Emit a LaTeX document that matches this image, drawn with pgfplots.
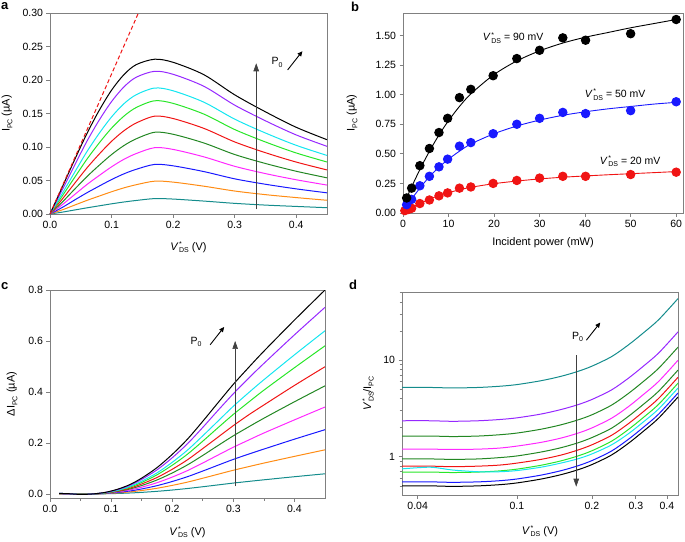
\documentclass[border=0pt]{standalone}
\usepackage{pgfplots}
\usepackage{pgfplotstable}
\pgfplotsset{compat=1.18}
\usepackage{fontspec}
\setmainfont{Liberation Sans}
\usetikzlibrary{arrows.meta}

\definecolor{cteal}{RGB}{20,140,140}
\definecolor{corange}{RGB}{255,140,20}
\definecolor{cblue}{RGB}{25,25,255}
\definecolor{cmag}{RGB}{255,40,255}
\definecolor{cdgreen}{RGB}{35,135,35}
\definecolor{cred}{RGB}{240,20,20}
\definecolor{cgreen}{RGB}{40,230,40}
\definecolor{ccyan}{RGB}{20,230,240}
\definecolor{cpurple}{RGB}{150,40,255}
\definecolor{cframe}{RGB}{128,128,128}

\newcommand{\Vds}{\textit{V}\kern0.6pt\rlap{\raisebox{3.8pt}{\scriptsize *}}\raisebox{-2.6pt}{\scriptsize DS}}
\newcommand{\Ipc}{I\raisebox{-2.6pt}{\scriptsize PC}}
\newcommand{\Pz}{P\raisebox{-2.6pt}{\scriptsize 0}}

\pgfplotstableread{
V     t      o      b      m      dg     r      g      c      p      k
0     0      0      0      0      0      0      0      0      0      0
0.02  .0028  .0062  .0098  .0139  .0178  .0223  .0269  .0308  .0362  .0404
0.04  .0060  .0133  .0209  .0290  .0370  .0457  .0546  .0622  .0728  .0809
0.06  .0092  .0203  .0317  .0440  .0558  .0688  .0818  .0931  .1086  .1201
0.08  .0122  .0268  .0417  .0575  .0728  .0895  .1061  .1205  .1402  .1548
0.10  .0152  .0332  .0514  .0704  .0887  .1085  .1281  .1449  .1678  .1848
0.12  .0179  .0390  .0599  .0816  .1021  .1242  .1460  .1645  .1896  .2079
0.14  .0202  .0437  .0667  .0902  .1122  .1358  .1589  .1780  .2041  .2229
0.17  .0230  .0490  .0740  .0990  .1220  .1460  .1690  .1880  .2130  .2310
0.20  .0223  .0476  .0719  .0964  .1190  .1425  .1651  .1839  .2085  .2264
0.25  .0193  .0415  .0633  .0853  .1060  .1278  .1491  .1669  .1906  .2079
0.30  .0159  .0343  .0525  .0712  .0888  .1076  .1261  .1416  .1625  .1779
0.35  .0133  .0289  .0444  .0603  .0754  .0915  .1075  .1209  .1391  .1525
0.40  .0113  .0245  .0375  .0511  .0638  .0775  .0911  .1025  .1180  .1294
0.45  .0094  .0205  .0316  .0432  .0540  .0658  .0776  .0874  .1010  .1109
}\tabA

\pgfplotstableread{
V      t      o      b      m      dg     r      g      c      p      k
0.015  0      0      .001   .001   .001   .001   .001   .002   .002   .002
0.03   0      0      0      0      .001   .001   .001   .001   .001   .001
0.05   -.002  0      -.001  -.001  -.001  -.001  -.001  -.002  -.002  -.002
0.07   -.001  0      0      0      0      0      0      0      0      0
0.09   .0006  .0013  .0019  .0026  .003   .004   .004   .005   .0055  .006
0.11   .0018  .0039  .0057  .0077  .0095  .011   .013   .014   .0165  .018
0.13   .0036  .0078  .0113  .0153  .019   .022   .026   .029   .033   .036
0.15   .0061  .0134  .0195  .0264  .033   .039   .045   .050   .057   .062
0.175  .0102  .0222  .0324  .0439  .0546  .0643  .0748  .0824  .0942  .103
0.2    .0153  .0335  .0488  .066   .0822  .0967  .1125  .124   .1418  .155
0.225  .0213  .0464  .0677  .0916  .114   .134   .156   .172   .197   .215
0.25   .0282  .0616  .0898  .1214  .151   .178   .207   .228   .261   .285
0.275  .0354  .0773  .1128  .1525  .19    .223   .26    .286   .328   .358
0.3    .0426  .0929  .1355  .1832  .228   .268   .312   .344   .393   .43
0.325  .0491  .1071  .1562  .2113  .263   .31    .36    .397   .454   .496
0.35   .0554  .121   .176   .239   .297   .349   .407   .448   .512   .56
0.4    .0675  .1473  .2148  .2905  .3615  .4256  .4951  .5456  .624   .682
0.45   .079   .173   .252   .341   .424   .499   .581   .64    .732   .80
}\tabC

\pgfplotstableread{
V       t      p      dga    m      dgb    r      g      c      b      k
0.0346  5.22   2.36   1.64   1.20   0.95   0.80   0.695  0.75   0.55   0.50
0.045   5.22   2.36   1.64   1.20   0.95   0.80   0.695  0.78   0.55   0.50
0.055   5.16   2.33   1.62   1.19   0.94   0.79   0.687  0.73   0.544  0.494
0.07    5.22   2.36   1.64   1.20   0.95   0.80   0.695  0.70   0.55   0.50
0.085   5.37   2.43   1.69   1.23   0.98   0.82   0.714  0.70   0.565  0.514
0.1     5.59   2.53   1.76   1.29   1.02   0.86   0.745  0.72   0.589  0.536
0.125   6.13   2.77   1.93   1.41   1.12   0.94   0.817  0.78   0.646  0.588
0.15    6.80   3.08   2.14   1.56   1.24   1.04   0.906  0.86   0.717  0.652
0.175   7.63   3.45   2.40   1.75   1.39   1.17   1.016  0.95   0.804  0.731
0.2     8.67   3.92   2.72   1.99   1.58   1.33   1.154  1.07   0.913  0.830
0.24    10.90  4.93   3.43   2.51   1.98   1.67   1.452  1.33   1.149  1.045
0.28    14.38  6.50   4.52   3.30   2.62   2.20   1.914  1.73   1.515  1.377
0.32    18.95  8.57   5.95   4.36   3.45   2.90   2.524  2.27   1.997  1.816
0.37    26.16  11.83  8.22   6.01   4.76   4.01   3.483  3.12   2.757  2.506
0.443   43.42  19.63  13.64  9.98   7.90   6.65   5.781  5.15   4.575  4.159
}\tabD

\pgfplotsset{
  every axis/.append style={
    scale only axis,
    anchor=north west,
    axis line style={cframe, line width=0.9pt},
    tick align=outside,
    tick style={cframe, line width=0.7pt},
    major tick length=3.5pt,
    minor tick length=2.5pt,
    xtick pos=left, ytick pos=left,
    scaled ticks=false,
    tick label style={font=\fontsize{10.5}{12}\selectfont, text=black},
    label style={font=\fontsize{11}{13}\selectfont},
    /pgf/number format/assume math mode=true,
    every axis plot/.append style={line width=1pt},
  },
  yfmt/.style={yticklabel style={/pgf/number format/.cd,fixed,fixed zerofill,precision=#1}},
  xfmt/.style={xticklabel style={/pgf/number format/.cd,fixed,fixed zerofill,precision=#1}},
}

\begin{document}
\begin{tikzpicture}
\useasboundingbox (0pt,0pt) rectangle (685pt,-541pt);

% panel letters
\node[anchor=north west, inner sep=0pt, font=\bfseries\fontsize{13}{14}\selectfont] at (1pt,-2.5pt) {a};
\node[anchor=north west, inner sep=0pt, font=\bfseries\fontsize{13}{14}\selectfont] at (351pt,-1.5pt) {b};
\node[anchor=north west, inner sep=0pt, font=\bfseries\fontsize{13}{14}\selectfont] at (1pt,-282pt) {c};
\node[anchor=north west, inner sep=0pt, font=\bfseries\fontsize{13}{14}\selectfont] at (349pt,-280pt) {d};

% ---------------- panel a
\begin{axis}[at={(50pt,-13pt)}, width=277pt, height=201pt,
  xmin=0, xmax=0.45, ymin=0, ymax=0.30,
  xtick={0,0.1,0.2,0.3,0.4}, ytick={0,0.05,0.1,0.15,0.2,0.25,0.3},
  xfmt=1, yfmt=2,
  xlabel={\Vds\ (V)}, ylabel={\Ipc\ (µA)},
  x label style={at={(axis description cs:0.5,-0.165)}, anchor=center},
  y label style={at={(axis description cs:-0.155,0.5)}, anchor=center},
  clip=true]
\addplot[cteal, smooth] table[x=V,y=t] {\tabA};
\addplot[corange, smooth] table[x=V,y=o] {\tabA};
\addplot[cblue, smooth] table[x=V,y=b] {\tabA};
\addplot[cmag, smooth] table[x=V,y=m] {\tabA};
\addplot[cdgreen, smooth] table[x=V,y=dg] {\tabA};
\addplot[cred, smooth] table[x=V,y=r] {\tabA};
\addplot[cgreen, smooth] table[x=V,y=g] {\tabA};
\addplot[ccyan, smooth] table[x=V,y=c] {\tabA};
\addplot[cpurple, smooth] table[x=V,y=p] {\tabA};
\addplot[black, smooth] table[x=V,y=k] {\tabA};
\addplot[cred, dashed, line width=1pt, dash pattern=on 4pt off 2.5pt] coordinates {(0,0) (0.1436,0.30)};
\draw[black!75, line width=0.6pt, -{Triangle[length=8pt,width=5.5pt]}] (axis cs:0.335,0.007) -- (axis cs:0.335,0.225);
\node[font=\fontsize{10.5}{12}\selectfont, anchor=center] at (axis cs:0.369,0.226) {\Pz};
\draw[black, line width=0.9pt, -{Triangle[length=5pt,width=4.5pt]}] (axis cs:0.386,0.215) -- (axis cs:0.410,0.243);
\end{axis}

% ---------------- panel b
\begin{axis}[at={(403pt,-13pt)}, width=280pt, height=200pt,
  xmin=0, xmax=61.5, ymin=0, ymax=1.69,
  xtick={0,10,20,30,40,50,60}, ytick={0,0.25,0.5,0.75,1,1.25,1.5},
  yfmt=2,
  xlabel={Incident power (mW)}, ylabel={\Ipc\ (µA)},
  x label style={at={(axis description cs:0.5,-0.15)}, anchor=center},
  y label style={at={(axis description cs:-0.182,0.5)}, anchor=center},
  clip=false]
\addplot[black, smooth, line width=0.9pt] coordinates {(0.5,0.10) (2,0.23) (4,0.39) (6,0.535) (8,0.665) (10,0.78) (12.5,0.905) (15,1.01) (20,1.17) (25,1.285) (30,1.37) (35,1.435) (40,1.485) (45,1.525) (50,1.565) (55,1.60) (60,1.635)};
\addplot[cblue, smooth, line width=0.9pt] coordinates {(0.5,0.06) (2,0.125) (4,0.225) (6,0.315) (8,0.39) (10,0.455) (12.5,0.525) (15,0.585) (20,0.67) (25,0.735) (30,0.785) (35,0.825) (40,0.855) (45,0.88) (50,0.90) (55,0.92) (60,0.935)};
\addplot[cred, smooth, line width=0.9pt] coordinates {(0.3,0.015) (2,0.05) (4,0.085) (6,0.12) (8,0.148) (10,0.172) (12.5,0.197) (15,0.218) (20,0.248) (25,0.27) (30,0.288) (35,0.302) (40,0.313) (45,0.323) (50,0.332) (55,0.341) (60,0.35)};
\addplot[only marks, mark=*, mark size=4.2pt, cred, mark options={fill=cred, draw=cred}] coordinates {(0.4,0.02) (1.2,0.03) (1.9,0.04) (3.7,0.08) (5.8,0.11) (7.9,0.145) (9.8,0.17) (12.4,0.21) (14.9,0.22) (19.8,0.25) (25,0.275) (30,0.295) (35.1,0.31) (40.1,0.31) (50,0.325) (60,0.345)};
\addplot[only marks, mark=*, mark size=4.2pt, cblue, mark options={fill=cblue, draw=cblue}] coordinates {(0.8,0.07) (1.9,0.115) (3.7,0.23) (5.8,0.31) (7.9,0.39) (9.8,0.455) (12.4,0.565) (14.9,0.595) (19.8,0.67) (25,0.75) (30,0.80) (35.1,0.85) (40.1,0.84) (50,0.865) (60,0.94)};
\addplot[only marks, mark=*, mark size=4.2pt, black, mark options={fill=black, draw=black}] coordinates {(0.8,0.127) (1.9,0.21) (3.7,0.40) (5.8,0.545) (7.9,0.68) (9.8,0.80) (12.4,0.975) (14.9,1.045) (19.8,1.16) (25,1.305) (30,1.375) (35.1,1.48) (40.1,1.46) (50,1.515) (60,1.635)};
\node[font=\fontsize{10.5}{12}\selectfont] at (axis cs:24.2,1.48) {\Vds\ = 90 mV};
\node[font=\fontsize{10.5}{12}\selectfont] at (axis cs:46.6,1.00) {\Vds\ = 50 mV};
\node[font=\fontsize{10.5}{12}\selectfont] at (axis cs:49.9,0.436) {\Vds\ = 20 mV};
\end{axis}

% ---------------- panel c
\begin{axis}[at={(50pt,-290pt)}, width=275pt, height=208pt,
  xmin=0, xmax=0.45, ymin=-0.016, ymax=0.8,
  xtick={0,0.1,0.2,0.3,0.4}, ytick={0,0.2,0.4,0.6,0.8},
  minor xtick={0.05,0.15,0.25,0.35},
  xfmt=1, yfmt=1,
  xlabel={\Vds\ (V)}, ylabel={ΔI\raisebox{-2.6pt}{\scriptsize PC} (µA)},
  x label style={at={(axis description cs:0.5,-0.165)}, anchor=center},
  y label style={at={(axis description cs:-0.138,0.5)}, anchor=center},
  clip=true]
\addplot[cteal, smooth] table[x=V,y=t] {\tabC};
\addplot[corange, smooth] table[x=V,y=o] {\tabC};
\addplot[cblue, smooth] table[x=V,y=b] {\tabC};
\addplot[cmag, smooth] table[x=V,y=m] {\tabC};
\addplot[cdgreen, smooth] table[x=V,y=dg] {\tabC};
\addplot[cred, smooth] table[x=V,y=r] {\tabC};
\addplot[cgreen, smooth] table[x=V,y=g] {\tabC};
\addplot[ccyan, smooth] table[x=V,y=c] {\tabC};
\addplot[cpurple, smooth] table[x=V,y=p] {\tabC};
\addplot[black, smooth] table[x=V,y=k] {\tabC};
\draw[black!75, line width=0.6pt, -{Triangle[length=8pt,width=5.5pt]}] (axis cs:0.303,0.03) -- (axis cs:0.303,0.60);
\node[font=\fontsize{10.5}{12}\selectfont, anchor=center] at (axis cs:0.239,0.597) {\Pz};
\draw[black, line width=0.9pt, -{Triangle[length=5pt,width=4.5pt]}] (axis cs:0.262,0.585) -- (axis cs:0.285,0.655);
\end{axis}

% ---------------- panel d
\begin{axis}[at={(402pt,-292pt)}, width=276pt, height=203pt,
  xmode=log, ymode=log,
  xmin=0.0346, xmax=0.443, ymin=0.402, ymax=50.8,
  xtick={0.04,0.1,0.2,0.3,0.4}, xticklabels={0.04,0.1,0.2,0.3,0.4},
  minor xtick={},
  ytick={1,10}, yticklabels={1,10},
  minor ytick={0.5,0.6,0.7,0.8,0.9,2,3,4,5,6,7,8,9,20,30,40,50},
  xlabel={\Vds\ (V)}, ylabel={\Vds/\Ipc},
  x label style={at={(axis description cs:0.5,-0.178)}, anchor=center},
  y label style={at={(axis description cs:-0.123,0.5)}, anchor=center},
  clip=true]
\addplot[cteal, smooth] table[x=V,y=t] {\tabD};
\addplot[cpurple, smooth] table[x=V,y=p] {\tabD};
\addplot[cdgreen, smooth] table[x=V,y=dga] {\tabD};
\addplot[cmag, smooth] table[x=V,y=m] {\tabD};
\addplot[cdgreen, smooth] table[x=V,y=dgb] {\tabD};
\addplot[cred, smooth] table[x=V,y=r] {\tabD};
\addplot[cgreen, smooth] table[x=V,y=g] {\tabD};
\addplot[ccyan, smooth] table[x=V,y=c] {\tabD};
\addplot[cblue, smooth] table[x=V,y=b] {\tabD};
\addplot[black, smooth] table[x=V,y=k] {\tabD};
\draw[black!75, line width=0.6pt, -{Triangle[length=8pt,width=5.5pt]}] (axis cs:0.173,11.3) -- (axis cs:0.173,0.49);
\node[font=\fontsize{10.5}{12}\selectfont, anchor=center] at (axis cs:0.175,17.4) {\Pz};
\draw[black, line width=0.9pt, -{Triangle[length=5pt,width=4.5pt]}] (axis cs:0.19,16.1) -- (axis cs:0.216,24.5);
\end{axis}
\end{tikzpicture}
\end{document}
